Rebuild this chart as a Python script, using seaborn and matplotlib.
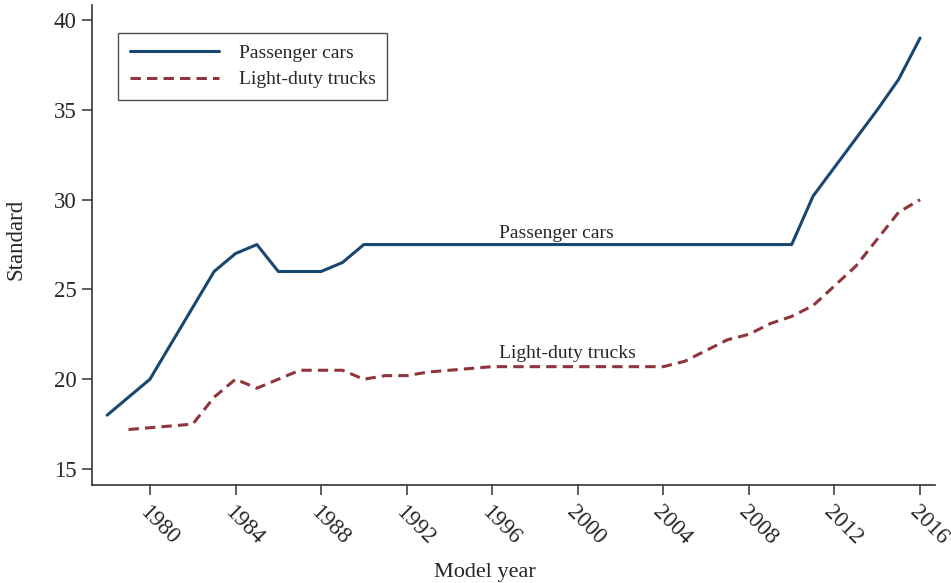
import matplotlib
matplotlib.use('Agg')
import matplotlib.pyplot as plt
import seaborn as sns
import pandas as pd


car_years = list(range(1978, 2017))
car_standard = [18.0, 19.0, 20.0, 22.0, 24.0, 26.0, 27.0, 27.5, 26.0, 26.0,
                26.0, 26.5, 27.5, 27.5, 27.5, 27.5, 27.5, 27.5, 27.5, 27.5,
                27.5, 27.5, 27.5, 27.5, 27.5, 27.5, 27.5, 27.5, 27.5, 27.5,
                27.5, 27.5, 27.5, 30.2, 31.8, 33.4, 35.0, 36.7, 39.0]

truck_years = list(range(1979, 2017))
truck_standard = [17.2, 17.3, 17.4, 17.5, 19.0, 20.0, 19.5, 20.0, 20.5, 20.5,
                  20.5, 20.0, 20.2, 20.2, 20.4, 20.5, 20.6, 20.7, 20.7, 20.7,
                  20.7, 20.7, 20.7, 20.7, 20.7, 20.7, 21.0, 21.6, 22.2, 22.5,
                  23.1, 23.5, 24.1, 25.2, 26.3, 27.8, 29.3, 30.0]

series_names = ['Passenger cars', 'Light-duty trucks']
x_ticks = list(range(1980, 2017, 4))
y_ticks = [15, 20, 25, 30, 35, 40]

sns.set_style('ticks')
plt.rcParams['font.family'] = ['Liberation Serif', 'DejaVu Serif']

df = pd.concat([
    pd.DataFrame({'year': car_years, 'standard': car_standard, 'fleet': series_names[0]}),
    pd.DataFrame({'year': truck_years, 'standard': truck_standard, 'fleet': series_names[1]}),
])

fig = plt.figure(figsize=(9.51, 5.83), dpi=100)
ax = fig.add_axes([0.0967, 0.1681, 0.8865, 0.8233])

palette = {series_names[0]: '#1a476f', series_names[1]: '#90353b'}
dashes = {series_names[0]: '', series_names[1]: (3.4, 2.0)}
sns.lineplot(data=df, x='year', y='standard', hue='fleet', style='fleet',
             palette=palette, dashes=dashes, linewidth=2.2, ax=ax)

ax.set_xlim(1977.29, 2016.7)
ax.set_ylim(14.11, 40.84)
ax.set_xticks(x_ticks)
ax.set_yticks(y_ticks)
ax.set_xticklabels([str(t) for t in x_ticks], rotation=-45, ha='left', va='top',
                   rotation_mode='anchor')
ax.tick_params(axis='both', labelsize=16.5, length=7, width=1.1, color='#333333')
ax.tick_params(axis='x', pad=5)
ax.tick_params(axis='y', pad=4)

sns.despine(ax=ax)
for side in ['left', 'bottom']:
    ax.spines[side].set_linewidth(1.2)
    ax.spines[side].set_color('#333333')

ax.set_xlabel('Model year', fontsize=16)
ax.set_ylabel('Standard', fontsize=16.5)
ax.xaxis.set_label_coords(0.466, -0.162)
ax.yaxis.set_label_coords(-0.078, 0.5125)

ax.text(1999.0, 28.1, 'Passenger cars', fontsize=14, ha='center', va='center')
ax.text(1999.5, 21.45, 'Light-duty trucks', fontsize=14, ha='center', va='center')

handles, labels = ax.get_legend_handles_labels()
leg = ax.legend(handles, labels, loc='upper left', bbox_to_anchor=(0.031, 0.942),
                fontsize=14, frameon=True, fancybox=False, handlelength=4.6,
                borderpad=0.6, labelspacing=0.45, handletextpad=1.0,
                borderaxespad=0)
leg.get_frame().set_edgecolor('#222222')
leg.get_frame().set_linewidth(1.0)

fig.savefig('out.png', dpi=100)
plt.close(fig)
